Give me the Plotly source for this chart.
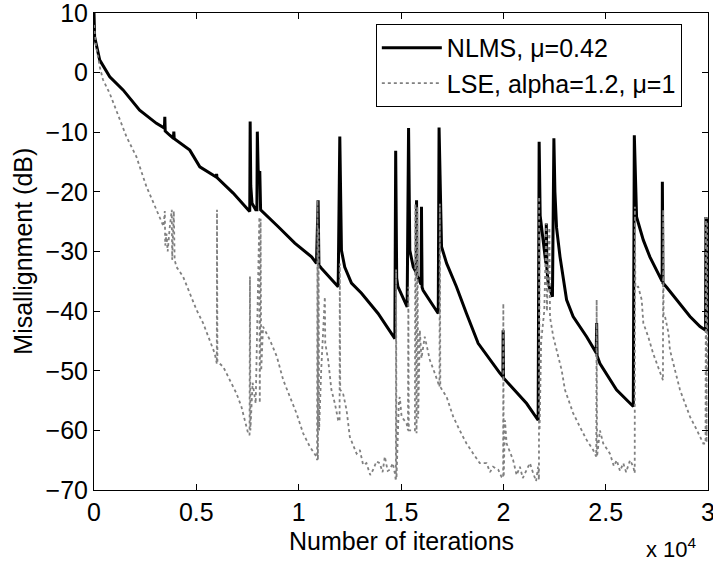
import plotly.graph_objects as go

# ---- data (iterations, dB) ----
nlms_x = [0, 30, 280, 770, 1420, 2230, 3050, 3440, 3460, 3480, 3700, 3880, 3900, 3920,
          4680, 5170, 5970, 5990, 6010, 6800, 7530, 7610, 7630, 7660, 7720, 7900, 7960,
          7980, 8020, 8060, 8100, 8140, 8990, 9810, 10630, 10870, 10950, 10990, 11110,
          11930, 12010, 12090, 12250, 12580, 13070, 13880, 14700, 14740, 14790, 14850,
          15300, 15370, 15430, 15600, 15740, 15760, 15780, 15980, 16000, 16030, 16080,
          16820, 16860, 16980, 17230, 17710, 18200, 18770, 19830, 19980, 19990, 20010,
          20320, 21140, 21700, 21750, 21800, 21950, 22080, 22100, 22130, 22200, 22400,
          22470, 22520, 22600, 22770, 23090, 23410, 24070, 24470, 24540, 24560, 24580,
          24720, 25530, 26350, 26400, 26510, 26840, 27160, 27650, 27760, 27770, 27800,
          27980, 28630, 29120, 29610, 29880, 29900, 29940, 29970, 30000]
nlms_y = [10, 6, 2.1, -0.7, -2.9, -6.3, -8.5, -9.3, -7.4, -9.8, -10.5, -11.0, -9.9, -11.1,
          -13.0, -15.8, -17.5, -17.0, -17.6, -20.2, -23.0, -23.3, -8.2, -19.0, -21.9, -23.0, -23.0,
          -9.9, -16.3, -17.0, -16.5, -23.0, -25.8, -28.6, -30.9, -32.0, -21.4, -32.3, -32.8,
          -35.9, -10.7, -29.8, -32.6, -35.3, -37.0, -40.4, -44.6, -13.1, -34.5, -35.9,
          -39.3, -9.3, -29.8, -32.6, -33.5, -21.4, -34.0, -35.5, -22.5, -36.0, -36.5,
          -40.4, -9.2, -29.2, -32.0, -35.9, -40.4, -45.4, -50.4, -51.0, -43.2, -51.2,
          -52.4, -55.5, -58.3, -11.6, -24.0, -28.6, -32.0, -25.3, -33.0, -35.5, -37.6,
          -11.0, -20.0, -26.0, -30.9, -38.1, -40.9, -44.3, -46.5, -47.0, -42.0, -47.5,
          -48.8, -53.2, -56.0, -10.5, -24.2, -28.1, -30.9, -34.2, -35.0, -18.3, -35.3,
          -36.0, -38.7, -40.9, -42.6, -43.2, -24.2, -42.5, -24.5, -43.5]

lse_x = [0, 100, 280, 440, 770, 1090, 1580, 2070, 2560, 3050, 3400, 3460, 3480, 3540,
         3600, 3700, 3800, 3820, 3900, 3940, 4030, 4350, 4680, 5010, 5330, 5660, 5900,
         6000, 6010, 6030, 6310, 6630, 6960, 7200, 7370, 7530, 7600, 7620, 7640, 7750,
         7900, 8080, 8100, 8140, 8170, 8260, 8590, 8930, 9250, 9570, 9890, 10220, 10540,
         10870, 10900, 10920, 10940, 10970, 11000, 11100, 11280, 11300, 11440, 11600,
         11770, 11930, 12000, 12010, 12030, 12170, 12340, 12500, 12830, 12990, 13150,
         13310, 13500, 13640, 13800, 13960, 14100, 14210, 14350, 14450, 14600, 14700,
         14750, 14760, 14780, 14900, 14940, 15030, 15270, 15340, 15360, 15380, 15600,
         15680, 15700, 15760, 15800, 15840, 15920, 16000, 16160, 16410, 16650, 16880,
         16900, 16920, 17230, 17550, 17870, 18200, 18530, 18850, 19180, 19350, 19500,
         19750, 19910, 19990, 20000, 20020, 20080, 20160, 20480, 20650, 20810, 20950,
         21140, 21300, 21460, 21600, 21700, 21740, 21750, 21770, 21850, 22000, 22100,
         22130, 22250, 22280, 22440, 22600, 22850, 23010, 23170, 23410, 23740, 24070,
         24390, 24540, 24560, 24580, 24720, 24880, 25210, 25400, 25540, 25700, 25860,
         26000, 26190, 26350, 26420, 26430, 26450, 26590, 26760, 26840, 27080, 27320,
         27570, 27740, 27800, 27810, 27830, 27900, 28070, 28140, 28390, 28630, 28880,
         29120, 29450, 29770, 29880, 29900, 29930, 29960, 30000]
lse_y = [8, 4.5, 1.0, -1.2, -3.5, -6.3, -10.7, -14.1, -19.1, -23.0, -25.8, -23.2, -29.0, -27.0,
         -30.0, -26.0, -23.0, -31.4, -23.2, -31.4, -32.6, -34.2, -37.0, -39.8, -42.0, -44.8, -47.1,
         -48.8, -23.0, -48.5, -49.3, -51.6, -53.8, -56.0, -58.3, -60.5, -60.8, -34.2, -60.0, -52.0,
         -55.5, -24.2, -55.4, -24.5, -50.0, -42.6, -44.8, -47.6, -51.6, -54.4, -57.1, -60.5, -62.7,
         -64.4, -65.0, -21.4, -65.0, -26.0, -60.0, -50.0, -37.6, -45.4, -48.2, -53.2,
         -55.5, -58.3, -58.5, -32.0, -53.2, -53.8, -56.6, -61.1, -63.9, -63.3, -65.8,
         -65.5, -67.5, -66.6, -65.2, -65.5, -67.0, -64.4, -66.8, -66.6, -65.5, -67.2,
         -68.5, -33.0, -68.0, -55.0, -54.4, -57.7, -58.8, -60.0, -35.9, -60.0, -60.0,
         -60.0, -22.0, -60.5, -22.5, -58.0, -43.2, -47.9, -44.3, -48.2, -50.4, -52.7,
         -22.0, -52.7, -54.4, -57.7, -60.0, -62.2, -63.9, -65.5, -65.5, -67.0, -66.1,
         -66.6, -67.8, -68.0, -38.7, -67.8, -58.3, -62.2, -65.0, -67.5, -66.1, -68.0,
         -66.6, -65.5, -67.2, -68.5, -66.1, -68.3, -20.8, -60.0, -45.0, -40.0, -25.3,
         -40.0, -26.0, -41.0, -44.3, -46.5, -49.9, -53.2, -54.9, -57.1, -59.4, -61.6,
         -63.3, -64.4, -38.1, -64.4, -60.0, -62.2, -63.9, -66.0, -65.0, -66.8, -65.5,
         -67.0, -65.0, -66.1, -67.2, -22.5, -36.0, -35.9, -38.1, -42.0, -44.3, -47.1,
         -49.3, -51.0, -51.6, -23.0, -40.9, -40.9, -43.7, -46.5, -49.9, -53.2, -55.5,
         -57.7, -59.9, -62.2, -62.2, -24.2, -62.0, -25.0, -50.0]

x_tickvals = [0, 5000, 10000, 15000, 20000, 25000, 30000]
x_ticktext = ["0", "0.5", "1", "1.5", "2", "2.5", "3"]
y_tickvals = [10, 0, -10, -20, -30, -40, -50, -60, -70]

FONT = "Liberation Sans, Arial, Helvetica, sans-serif"

fig = go.Figure()
fig.add_trace(go.Scatter(x=nlms_x, y=nlms_y, mode="lines", name="NLMS, μ=0.42",
                         line=dict(color="black", width=3)))
fig.add_trace(go.Scatter(x=lse_x, y=lse_y, mode="lines", name="LSE, alpha=1.2, μ=1",
                         line=dict(color="#808080", width=1.8, dash="dot")))

axis_common = dict(showline=True, linecolor="black", linewidth=1, mirror="ticks",
                   ticks="inside", ticklen=6, tickcolor="black", showgrid=False,
                   zeroline=False, ticklabeloverflow="allow", automargin=False,
                   tickfont=dict(family=FONT, size=25, color="black"))

fig.update_xaxes(range=[0, 30000], tickvals=x_tickvals, ticktext=x_ticktext, **axis_common)
fig.update_yaxes(range=[-70, 10], tickvals=y_tickvals, **axis_common)

fig.update_layout(
    width=713, height=564,
    margin=dict(l=94, r=5, t=13, b=74, autoexpand=False),
    paper_bgcolor="white", plot_bgcolor="white",
    font=dict(family=FONT, color="black"),
    showlegend=True,
    legend=dict(x=0.459, y=0.977, xanchor="left", yanchor="top",
                bordercolor="black", borderwidth=1, bgcolor="white",
                font=dict(family=FONT, size=25, color="black"),
                itemwidth=60, tracegroupgap=0),
    annotations=[
        dict(text="Misallignment (dB)", textangle=-90, xref="paper", yref="paper",
             x=-0.117, y=0.5, xanchor="center", yanchor="middle", showarrow=False,
             font=dict(family=FONT, size=25, color="black")),
        dict(text="Number of iterations", xref="paper", yref="paper",
             x=0.5, y=-0.107, xanchor="center", yanchor="middle", showarrow=False,
             font=dict(family=FONT, size=25, color="black")),
        dict(text="x 10<sup>4</sup>", xref="paper", yref="paper",
             x=0.985, y=-0.122, xanchor="right", yanchor="middle", showarrow=False,
             font=dict(family=FONT, size=22, color="black")),
    ],
)

fig.write_html("out.html", config={"displayModeBar": False},
               post_script="document.body.style.margin='0px';document.body.style.overflow='hidden';")
